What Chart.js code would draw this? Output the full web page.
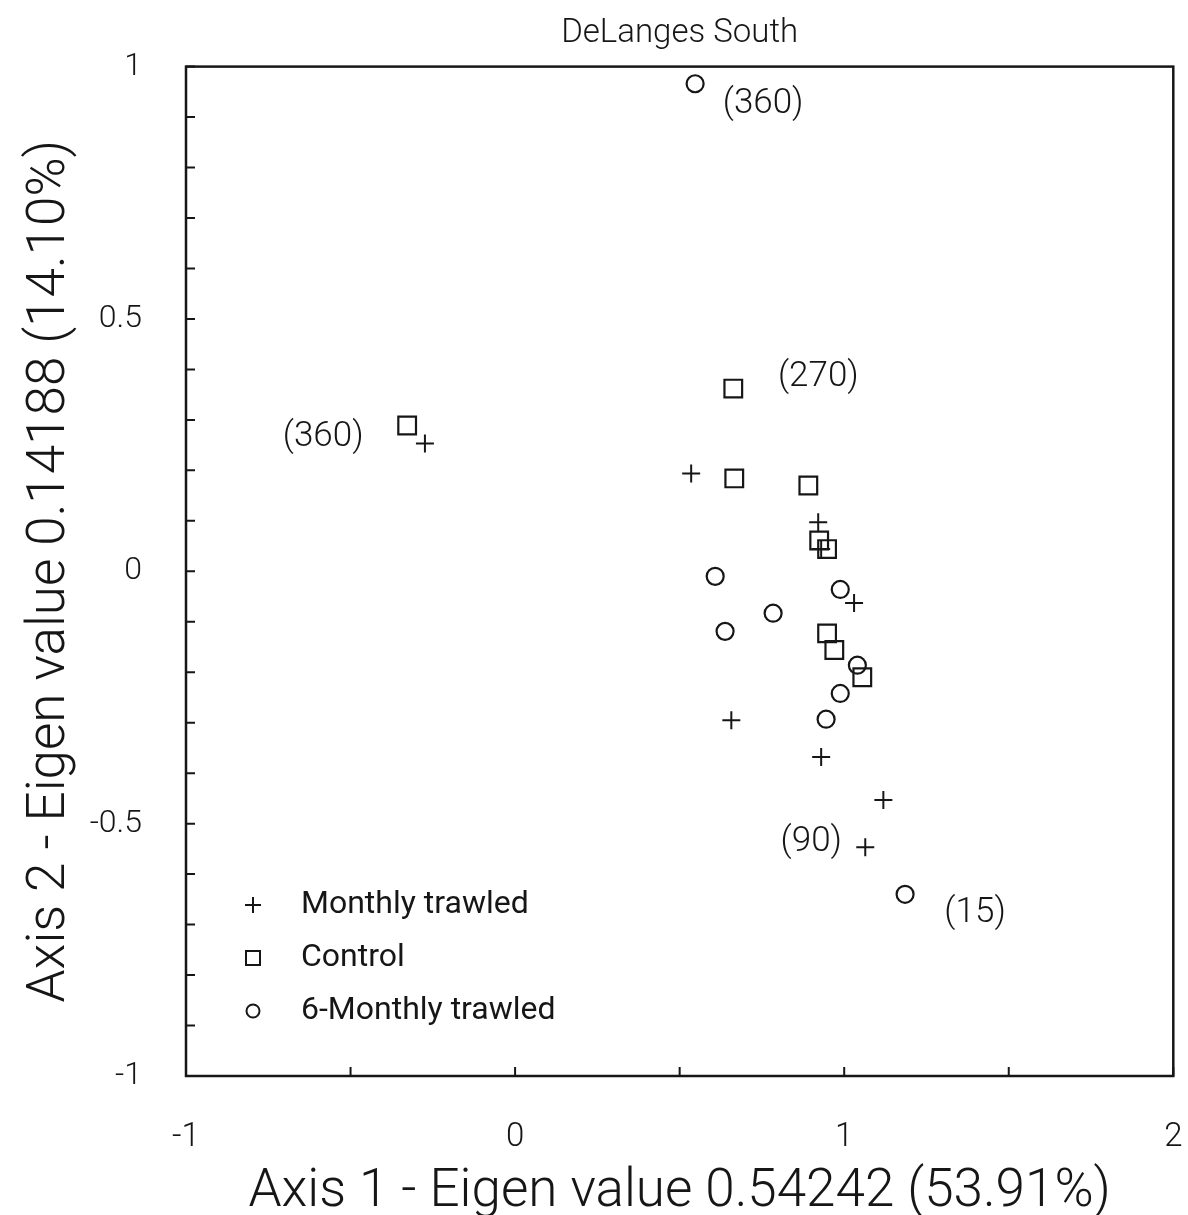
<!DOCTYPE html>
<html>
<head>
<meta charset="utf-8">
<title>DeLanges South</title>
<script src="https://cdn.jsdelivr.net/npm/chart.js@4/dist/chart.umd.min.js"></script>
<style>
  html, body { margin: 0; padding: 0; background: #fff; }
  #wrap { width: 1188px; height: 1215px; }
</style>
</head>
<body>
<div id="wrap"><canvas id="ordination"></canvas></div>
<script>
// Point scores
const monthlyX = [0.535, 0.921, 0.930, 1.030, 0.657, 0.930, 1.119, 1.064, -0.274];
const monthlyY = [0.194, 0.097, 0.044, -0.063, -0.295, -0.368, -0.453, -0.547, 0.253];

const controlX = [0.663, 0.666, 0.891, 0.924, 0.948, 0.948, 0.970, 1.055, -0.328];
const controlY = [0.362, 0.184, 0.170, 0.061, 0.044, -0.123, -0.156, -0.210, 0.289];

const sixMonthlyX = [0.547, 0.608, 0.988, 0.784, 0.638, 1.040, 0.988, 0.945, 1.185];
const sixMonthlyY = [0.966, -0.010, -0.036, -0.083, -0.119, -0.186, -0.242, -0.293, -0.640];

const seriesNames = ['Monthly trawled', 'Control', '6-Monthly trawled'];

// day labels attached to single points: [dataset, index, text]
const pointNotes = [
  [2, 0, '(360)'],
  [1, 0, '(270)'],
  [1, 8, '(360)'],
  [0, 7, '(90)'],
  [2, 8, '(15)']
];

const xTitle = 'Axis 1 - Eigen value 0.54242 (53.91%)';
const yTitle = 'Axis 2 - Eigen value 0.14188 (14.10%)';
const chartTitle = 'DeLanges South';

function toPoints(xs, ys) {
  return xs.map((x, i) => ({ x: x, y: ys[i] }));
}

const FONT = 'Roboto, "Liberation Sans", sans-serif';
const INK = '#161616';

// pixel offsets of the day labels from their points
const noteOffsets = [[68, 20], [85, -11], [-84, 12], [-54, -5], [70, 19]];

const notesPlugin = {
  id: 'notes',
  afterDatasetsDraw(chart) {
    const ctx = chart.ctx;
    ctx.save();
    ctx.fillStyle = INK;
    ctx.font = '300 35px ' + FONT;
    ctx.textAlign = 'center';
    ctx.textBaseline = 'middle';
    pointNotes.forEach((n, k) => {
      const el = chart.getDatasetMeta(n[0]).data[n[1]];
      ctx.fillText(n[2], el.x + noteOffsets[k][0], el.y + noteOffsets[k][1]);
    });
    ctx.restore();
  }
};

// box frame and inward tick marks
const framePlugin = {
  id: 'frame',
  afterDraw(chart) {
    const ctx = chart.ctx;
    const a = chart.chartArea;
    const xs = chart.scales.x, ys = chart.scales.y;
    ctx.save();
    ctx.strokeStyle = INK;
    ctx.lineWidth = 2.5;
    ctx.strokeRect(a.left, a.top, a.right - a.left, a.bottom - a.top);
    ctx.lineWidth = 2;
    ctx.beginPath();
    ys.ticks.forEach(t => {
      const p = ys.getPixelForValue(t.value);
      ctx.moveTo(a.left, p);
      ctx.lineTo(a.left + 9, p);
    });
    xs.ticks.forEach(t => {
      const p = xs.getPixelForValue(t.value);
      ctx.moveTo(p, a.bottom);
      ctx.lineTo(p, a.bottom - 9);
    });
    ctx.stroke();
    ctx.restore();
  }
};

// legend drawn inside the lower-left corner of the plot
const boxLegendPlugin = {
  id: 'boxLegend',
  afterDraw(chart) {
    const ctx = chart.ctx;
    const a = chart.chartArea;
    ctx.save();
    ctx.strokeStyle = INK;
    ctx.fillStyle = INK;
    ctx.lineWidth = 2;
    ctx.font = '400 32px ' + FONT;
    ctx.textAlign = 'left';
    ctx.textBaseline = 'middle';
    const mx = a.left + 67;
    chart.data.datasets.forEach((ds, i) => {
      const y = a.bottom - 171 + i * 53;
      ctx.beginPath();
      if (ds.pointStyle === 'cross') {
        ctx.moveTo(mx - 8, y); ctx.lineTo(mx + 8, y);
        ctx.moveTo(mx, y - 8); ctx.lineTo(mx, y + 8);
      } else if (ds.pointStyle === 'rect') {
        ctx.rect(mx - 7, y - 7, 14, 14);
      } else {
        ctx.arc(mx, y, 6.5, 0, Math.PI * 2);
      }
      ctx.stroke();
      ctx.fillText(ds.label, a.left + 115, y);
    });
    ctx.restore();
  }
};

function isHalf(v) {
  return Math.abs(v * 2 - Math.round(v * 2)) < 1e-6;
}

new Chart(document.getElementById('ordination'), {
  type: 'scatter',
  data: {
    datasets: [
      {
        label: seriesNames[0],
        data: toPoints(monthlyX, monthlyY),
        pointStyle: 'cross',
        pointRadius: 9,
        borderColor: INK,
        backgroundColor: 'rgba(0,0,0,0)',
        borderWidth: 2
      },
      {
        label: seriesNames[1],
        data: toPoints(controlX, controlY),
        pointStyle: 'rect',
        pointRadius: 12.5,
        borderColor: INK,
        backgroundColor: 'rgba(0,0,0,0)',
        borderWidth: 2.2
      },
      {
        label: seriesNames[2],
        data: toPoints(sixMonthlyX, sixMonthlyY),
        pointStyle: 'circle',
        pointRadius: 8.5,
        borderColor: INK,
        backgroundColor: 'rgba(0,0,0,0)',
        borderWidth: 2.2
      }
    ]
  },
  options: {
    responsive: true,
    maintainAspectRatio: false,
    animation: false,
    layout: { padding: { left: 0, right: 13, top: 0, bottom: 0 } },
    plugins: {
      legend: { display: false },
      tooltip: { enabled: false },
      title: {
        display: true,
        text: chartTitle,
        fullSize: false,
        color: INK,
        font: { family: FONT, size: 33, weight: '300' },
        padding: { top: 14, bottom: 13 }
      }
    },
    scales: {
      x: {
        type: 'linear',
        min: -1,
        max: 2,
        border: { display: false },
        grid: { display: false },
        ticks: {
          stepSize: 0.5,
          padding: 34,
          color: INK,
          maxRotation: 0,
          font: { family: FONT, size: 33, weight: '300' },
          callback: v => Number.isInteger(v) ? String(v) : ''
        },
        title: {
          display: true,
          text: xTitle,
          color: INK,
          font: { family: FONT, size: 53, weight: '300', lineHeight: 0.85 },
          padding: { top: 0, bottom: 0 }
        },
        afterFit: s => {
          s.height = 139;
          s.paddingLeft = 0;
          s.paddingRight = 0;
        }
      },
      y: {
        type: 'linear',
        min: -1,
        max: 1,
        border: { display: false },
        grid: { display: false },
        ticks: {
          stepSize: 0.1,
          padding: 36,
          color: INK,
          font: { family: FONT, size: 32, weight: '300' },
          callback: v => isHalf(v) ? String(Math.round(v * 2) / 2) : ''
        },
        title: {
          display: true,
          text: yTitle,
          color: INK,
          font: { family: FONT, size: 53, weight: '300', lineHeight: 1 },
          padding: { top: 24, bottom: 0 }
        },
        afterFit: s => {
          s.width = 186;
          s.paddingTop = 0;
          s.paddingBottom = 0;
        }
      }
    }
  },
  plugins: [notesPlugin, framePlugin, boxLegendPlugin]
});
</script>
</body>
</html>
